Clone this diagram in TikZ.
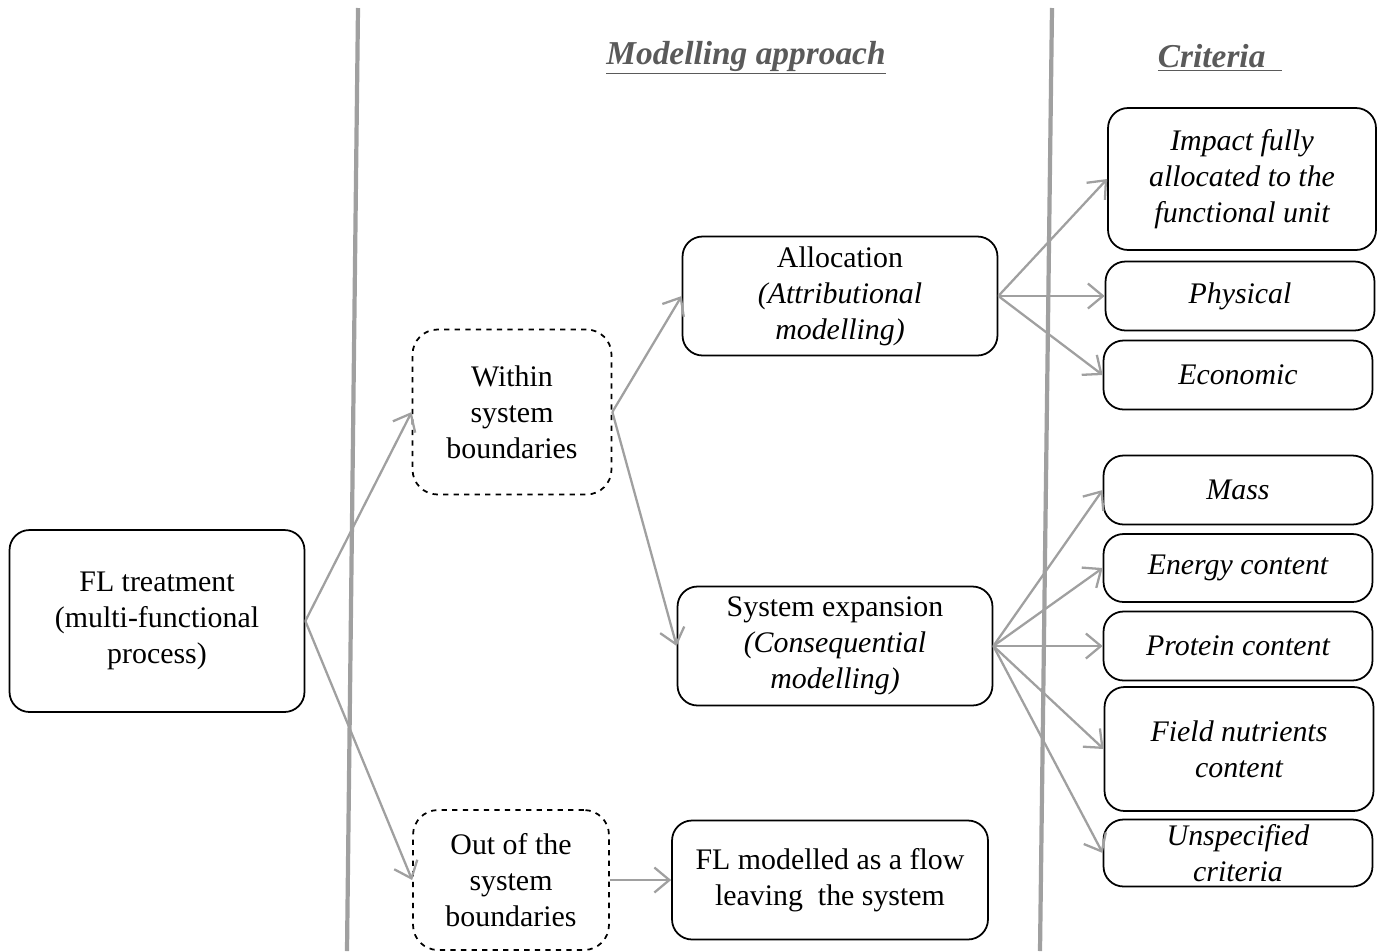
\documentclass[tikz,border=0pt]{standalone}
\usepackage{fontspec}
\setmainfont{Liberation Serif}
\usetikzlibrary{arrows.meta}
\definecolor{linegray}{HTML}{A0A0A0}
\definecolor{headgray}{HTML}{5A5A5A}
\begin{document}
\begin{tikzpicture}[x=0.02cm, y=-0.02cm,
    every node/.style={font=\fontsize{17}{20.4}\selectfont, align=center},
    box/.style={draw=black, line width=1pt, rounded corners=0.4cm, inner sep=2pt},
    dbox/.style={box, dashed, rounded corners=0.5cm},
    crit/.style={box, minimum width=5.38cm, font=\fontsize{17}{20.4}\selectfont\itshape},
    arr/.style={draw=linegray, line width=1.3pt, -{Straight Barb[length=3mm, width=5mm]}},
    sep/.style={draw=linegray, line width=2.4pt},
    head/.style={text=headgray, font=\fontsize{19}{22}\selectfont\bfseries\itshape}]
    \useasboundingbox (0,0) rectangle (1379,951);

    % column separators
    \draw[sep] (358,8) -- (347,951);
    \draw[sep] (1052,8) -- (1040,951);

    % headings
    \node[head] (hmodel) at (746,58) {\underline{Modelling approach}};
    \node[head] (hcrit) at (1220,58) {\underline{Criteria\ \ }};

    % modelling boxes
    \node[box, minimum width=5.9cm, minimum height=3.64cm] (fl) at (157,621)
        {FL treatment\\(multi-functional\\process)};
    \node[dbox, minimum width=3.98cm, minimum height=3.3cm] (within) at (512,412)
        {Within\\system\\boundaries};
    \node[dbox, minimum width=3.92cm, minimum height=2.8cm] (outof) at (511,880)
        {Out of the\\system\\boundaries};
    \node[box, minimum width=6.3cm, minimum height=2.38cm] (alloc) at (840,296)
        {Allocation\\\textit{(Attributional}\\\textit{modelling)}};
    \node[box, minimum width=6.3cm, minimum height=2.38cm] (sysexp) at (835,646)
        {System expansion\\\textit{(Consequential}\\\textit{modelling)}};
    \node[box, minimum width=6.32cm, minimum height=2.38cm] (flflow) at (830,880)
        {FL modelled as a flow\\leaving\ \ the system};

    % criteria boxes
    \node[crit, minimum width=5.36cm, minimum height=2.84cm] (impact) at (1242,179)
        {Impact fully\\allocated to the\\functional unit};
    \node[crit, minimum height=1.38cm] (phys) at (1240,296) {Physical};
    \node[crit, minimum height=1.38cm] (econ) at (1238,375) {Economic};
    \node[crit, minimum height=1.38cm] (mass) at (1238,490) {Mass};
    \node[crit, minimum height=1.36cm] (energy) at (1238,568) {Energy content};
    \node[crit, minimum height=1.38cm] (protein) at (1238,646) {Protein content};
    \node[crit, minimum height=2.48cm] (field) at (1239,749) {Field nutrients\\content};
    \node[crit, minimum height=1.34cm, inner ysep=0pt] (unspec) at (1238,853)
        {Unspecified\\criteria};

    % connectors
    \draw[arr] (fl.east) -- (within.west);
    \draw[arr] (fl.east) -- (outof.west);
    \draw[arr] (within.east) -- (alloc.west);
    \draw[arr] (within.east) -- (sysexp.west);
    \draw[arr] (outof.east) -- (flflow.west);
    \foreach \c in {impact, phys, econ}
        \draw[arr] (alloc.east) -- (\c.west);
    \foreach \c in {mass, energy, protein, field, unspec}
        \draw[arr] (sysexp.east) -- (\c.west);
\end{tikzpicture}
\end{document}
